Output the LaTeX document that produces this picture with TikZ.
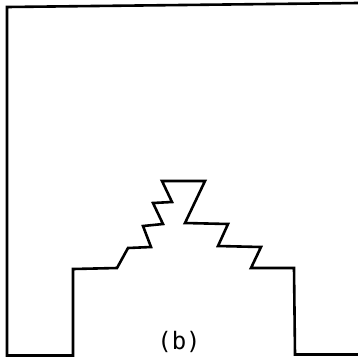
\documentclass[tikz,border=0pt]{standalone}
\usepackage{fontspec}
\newfontfamily\plotfont{DejaVu Sans Mono}
\begin{document}
\begin{tikzpicture}[x=1pt,y=-1pt,
  outline/.style={line width=2.6pt,line join=miter,line cap=butt},
  caption/.style={font=\plotfont\fontsize{24}{24}\selectfont,inner sep=0pt}]
\useasboundingbox (0,0) rectangle (358,357);
\draw[outline] (358,3) -- (7,7) -- (7,355.5) -- (73,355.5) -- (73,269) -- (117,268) -- (128,248) -- (151,247)
  -- (143,226) -- (163,224) -- (153,203) -- (172,202) -- (162,181) -- (205,181)
  -- (185,223) -- (228,224) -- (218,246) -- (261,247) -- (251,268) -- (294,268)
  -- (295,354.5) -- (358,354.5);
\node[caption] (lbl) at (179,342) {(b)};
\end{tikzpicture}
\end{document}
